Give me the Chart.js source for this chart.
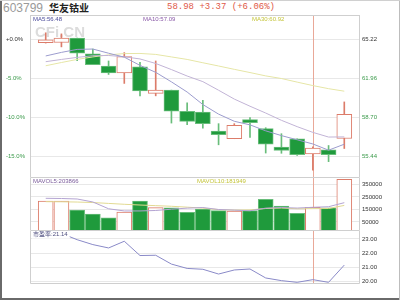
<!DOCTYPE html>
<html lang="zh-CN">
<head>
<meta charset="utf-8">
<title>603799 华友钴业</title>
<script src="https://cdn.jsdelivr.net/npm/chart.js@4.4.1/dist/chart.umd.min.js"></script>
<style>
  html, body { margin: 0; padding: 0; background: #fff; }
  #wrap { position: relative; width: 400px; height: 300px; overflow: hidden; background: #fff; font-family: "Liberation Sans", sans-serif; }
  #wrap canvas { position: absolute; left: 0; }
  .hd { position: absolute; white-space: nowrap; line-height: 1; }
  #code { left: 3px; top: 2px; font-size: 12px; color: #9a9a9a; }
  #name { left: 49px; top: 3px; font-size: 10px; font-weight: bold; color: #222; font-family: "Noto Sans CJK SC", sans-serif; }
  #quote { left: 167px; top: 3px; font-size: 9px; color: #e05a48; font-family: "Liberation Mono", monospace; }
  .edge { position: absolute; z-index: 5; }
</style>
</head>
<body>
<div id="wrap">
  <div class="hd" id="code">603799</div>
  <div class="hd" id="name">华友钴业</div>
  <div class="hd" id="quote"></div>
  <canvas id="priceChart" width="400" height="163" style="top:15px"></canvas>
  <canvas id="volChart" width="400" height="53" style="top:178px"></canvas>
  <canvas id="peChart" width="400" height="69" style="top:231px"></canvas>
  <div class="edge" style="left:0;top:0;width:2px;height:300px;background:#6a6a6a"></div>
  <div class="edge" style="left:0;top:298px;width:400px;height:2px;background:#6a6a6a"></div>
  <div class="edge" style="left:399px;top:0;width:1px;height:300px;background:#bdbdbd"></div>
  <div class="edge" style="left:0;top:0;width:400px;height:1px;background:#d0d0d0"></div>
</div>
<script>
// торговые дни
const dates = ['2022-12-08', '2022-12-09', '2022-12-12', '2022-12-13', '2022-12-14',
  '2022-12-15', '2022-12-16', '2022-12-19', '2022-12-20', '2022-12-21',
  '2022-12-22', '2022-12-23', '2022-12-26', '2022-12-27', '2022-12-28',
  '2022-12-29', '2022-12-30', '2023-01-03', '2023-01-04', '2023-01-05'];

const opens  = [64.99, 65.00, 65.36, 64.04, 63.03, 62.46, 62.97, 60.73, 61.01, 59.24,
                59.18, 57.58, 56.94, 58.54, 57.78, 56.23, 56.94, 55.66, 56.01, 56.96];
const closes = [65.22, 65.36, 64.10, 63.14, 62.46, 63.81, 60.95, 61.01, 59.24, 58.39,
                58.20, 57.27, 58.06, 58.28, 56.48, 55.95, 55.61, 56.16, 55.61, 58.98];
const highs  = [65.81, 65.72, 65.36, 64.44, 63.45, 64.15, 63.34, 63.45, 61.01, 59.94,
                60.16, 58.20, 58.20, 58.71, 57.86, 57.36, 56.94, 56.25, 56.37, 60.02];
const lows   = [64.95, 64.63, 63.48, 63.14, 62.32, 61.57, 60.53, 60.53, 58.25, 58.12,
                57.83, 56.43, 56.94, 57.05, 55.74, 55.72, 55.55, 54.31, 55.02, 56.12];

const ma5  = [63.87, 64.17, 64.42, 64.45, 64.10, 63.77, 63.08, 62.50, 61.70, 60.85,
              59.80, 59.00, 58.40, 58.10, 57.60, 57.20, 56.85, 56.50, 55.98, 56.48];
const ma10 = [63.39, 63.58, 63.75, 63.89, 63.91, 63.80, 63.62, 63.24, 62.73, 62.19,
              61.72, 61.00, 60.26, 59.66, 59.09, 58.48, 57.95, 57.47, 57.08, 57.09];
const ma30 = [63.05, 63.32, 63.58, 63.79, 63.96, 64.07, 64.08, 64.00, 63.79, 63.58,
              63.30, 63.03, 62.75, 62.48, 62.20, 61.98, 61.68, 61.39, 61.13, 60.92];

const volumes = [217500, 217000, 145000, 113000, 83000, 129000, 217500, 164000, 163500, 126500,
                 153000, 139500, 137000, 139500, 231000, 177500, 118500, 167000, 163500, 392000];
const mavol5  = [239000, 237500, 233500, 209500, 155100, 137400, 137500, 141300, 151400, 160100,
                 164900, 149300, 143900, 139100, 160000, 164900, 160700, 166700, 171500, 203866];
const mavol10 = [212000, 211000, 209000, 205000, 198000, 191000, 185000, 180000, 175000, 168000,
                 160000, 148000, 144000, 146000, 157000, 161000, 155000, 156000, 157000, 181949];

const peRatio = [23.35, 23.40, 22.95, 22.60, 22.36, 22.84, 21.82, 21.84, 21.21, 20.90,
                 20.84, 20.50, 20.79, 20.86, 20.22, 20.03, 19.91, 20.10, 19.91, 21.14];

// подписи осей
const priceTicks = [65.22, 61.96, 58.70, 55.44];
const pctTicks = [0, -5, -10, -15];
const volTicks = [350000, 250000, 150000, 50000];
const peTicks = [23, 22, 21, 20];
const xTickDates = ['2023-01-03'];
const xTickMonths = ['1月'];
const xTickYears = ['2023年'];

// диапазоны шкал
const BASE_PRICE = priceTicks[0];
const PRICE_MIN = 53.65, PRICE_MAX = 67.3;
const VOL_MIN = -23500, VOL_MAX = 402000;
const PE_MIN = 19.79, PE_MAX = 23.57;

const upColor = '#dc7c6a';
const downFill = '#1f9a3c';
const downEdge = '#68bd7a';
const greenText = '#3a9a4a';
const darkText = '#333';
const gridColor = '#e8e8e8';
const frameColor = '#cfcfcf';
const janLineColor = '#e9a898';
const axisFont = { family: 'Liberation Sans', size: 6 };
const labelFont = '6px "Liberation Sans"';

const xs = dates.map((d, i) => i + 1);
const isUp = closes.map((c, i) => c >= opens[i]);
const janIdx = dates.indexOf(xTickDates[0]) + 1;
const last = dates.length - 1;
const pts = arr => arr.map((v, i) => ({ x: xs[i], y: v }));
const pctOf = p => (p / BASE_PRICE - 1) * 100;

const chg = closes[last] - closes[last - 1];
document.getElementById('quote').textContent =
  `${closes[last].toFixed(2)} +${chg.toFixed(2)} (+${(chg / closes[last - 1] * 100).toFixed(2)}%)`;

function decorPlugin(cfg) {
  return {
    id: 'decor',
    beforeDatasetsDraw(chart) {
      const { ctx, chartArea: a, scales: { x } } = chart;
      ctx.save();
      if (cfg.watermark) {
        ctx.font = 'bold 15px "Liberation Sans"';
        ctx.fillStyle = '#dcdcdc';
        ctx.textBaseline = 'alphabetic';
        ctx.fillText(cfg.watermark, a.left + 5, a.top + 22);
      }
      const jx = Math.round(x.getPixelForValue(janIdx)) + 0.5;
      ctx.strokeStyle = janLineColor;
      ctx.lineWidth = 1;
      ctx.beginPath();
      ctx.moveTo(jx, a.top);
      ctx.lineTo(jx, a.bottom);
      ctx.stroke();
      ctx.restore();
    },
    afterDatasetsDraw(chart) {
      const { ctx, chartArea: a } = chart;
      ctx.save();
      const L = Math.round(a.left) + 0.5, R = Math.round(a.right) - 0.5;
      const T = Math.round(a.top) + 0.5, B = Math.round(a.bottom) - 0.5;
      ctx.strokeStyle = frameColor;
      ctx.lineWidth = 1;
      ctx.beginPath();
      if (cfg.top) { ctx.moveTo(L, T); ctx.lineTo(R, T); }
      ctx.moveTo(L, a.top); ctx.lineTo(L, B);
      ctx.moveTo(R, a.top); ctx.lineTo(R, B);
      ctx.moveTo(L, B); ctx.lineTo(R, B);
      ctx.stroke();
      (cfg.labels || []).forEach(l => {
        ctx.font = labelFont;
        ctx.textBaseline = 'middle';
        if (l.bg) {
          const w = ctx.measureText(l.text).width;
          ctx.fillStyle = l.bg;
          ctx.fillRect(l.x - 1, l.y - 4, w + 3, 8);
        }
        ctx.fillStyle = l.color;
        ctx.fillText(l.text, l.x, l.y);
      });
      ctx.restore();
    }
  };
}

function baseOptions(padLeft) {
  return {
    responsive: false,
    animation: false,
    events: [],
    layout: { padding: { left: padLeft, right: 0, top: 0, bottom: 0 } },
    plugins: { legend: { display: false }, tooltip: { enabled: false } }
  };
}

// у bar-графика ось x по умолчанию с offset — выключаем
const xHidden = { type: 'linear', min: 0, max: dates.length + 1, offset: false,
  grid: { offset: false }, display: false };

function rightAxis(min, max, ticks, fmt, color) {
  return {
    position: 'right', min, max,
    afterBuildTicks: s => { s.ticks = ticks.map(v => ({ value: v })); },
    afterFit: s => { s.width = 40; s.paddingTop = 0; s.paddingBottom = 0; },
    ticks: { padding: 2, font: axisFont, color, callback: fmt },
    grid: { color: gridColor, drawTicks: false },
    border: { display: false }
  };
}

function lineSet(arr, color) {
  return { type: 'line', data: pts(arr), borderColor: color, borderWidth: 1,
    pointRadius: 0, tension: 0, order: 1 };
}

// свечи
const priceOpts = baseOptions(6);
priceOpts.scales = {
  x: xHidden,
  y: rightAxis(PRICE_MIN, PRICE_MAX, priceTicks, v => v.toFixed(2),
    c => c.index === 0 ? darkText : greenText),
  pct: {
    position: 'left', min: pctOf(PRICE_MIN), max: pctOf(PRICE_MAX),
    afterBuildTicks: s => { s.ticks = pctTicks.map(v => ({ value: v })); },
    afterFit: s => { s.width = 24; s.paddingTop = 0; s.paddingBottom = 0; },
    ticks: { crossAlign: 'far', font: axisFont,
      color: c => c.index === 0 ? darkText : greenText,
      callback: v => (v >= 0 ? '+' : '') + v.toFixed(1) + '%' },
    grid: { display: false },
    border: { display: false }
  }
};

new Chart('priceChart', {
  type: 'bar',
  data: {
    datasets: [
      lineSet(ma5, '#9c9cce'),
      lineSet(ma10, '#c2b4d6'),
      lineSet(ma30, '#e6e6a6'),
      {
        data: xs.map((x, i) => ({ x, y: [lows[i], highs[i]] })),
        backgroundColor: isUp.map(u => u ? upColor : downEdge),
        barThickness: 1, grouped: false, order: 3
      },
      {
        data: xs.map((x, i) => ({ x, y: [opens[i], closes[i]] })),
        backgroundColor: isUp.map(u => u ? '#fff' : downFill),
        borderColor: isUp.map(u => u ? upColor : downEdge),
        borderWidth: 1, borderSkipped: false,
        barThickness: 15, grouped: false, order: 2
      }
    ]
  },
  options: priceOpts,
  plugins: [decorPlugin({
    top: true, watermark: 'CFi.CN',
    labels: [
      { text: 'MA5:' + ma5[last].toFixed(2), x: 33, y: 4, color: '#4a4a9a' },
      { text: 'MA10:' + ma10[last].toFixed(2), x: 143, y: 4, color: '#8a5aa8' },
      { text: 'MA30:' + ma30[last].toFixed(2), x: 252, y: 4, color: '#c4c43a' }
    ]
  })]
});

// объём
const volOpts = baseOptions(30);
volOpts.scales = {
  x: xHidden,
  y: rightAxis(VOL_MIN, VOL_MAX, volTicks, v => String(v), darkText)
};

new Chart('volChart', {
  type: 'bar',
  data: {
    datasets: [
      lineSet(mavol5, '#b4a4d2'),
      lineSet(mavol10, '#e2da92'),
      {
        data: xs.map((x, i) => ({ x, y: volumes[i] })),
        base: VOL_MIN,
        backgroundColor: isUp.map(u => u ? '#fff' : downFill),
        borderColor: isUp.map(u => u ? upColor : downEdge),
        borderWidth: 1, borderSkipped: false,
        barThickness: 15, grouped: false, order: 2
      }
    ]
  },
  options: volOpts,
  plugins: [decorPlugin({
    labels: [
      { text: 'MAVOL5:' + mavol5[last], x: 33, y: 3, color: '#7a5a9a' },
      { text: 'MAVOL10:' + mavol10[last], x: 197, y: 3, color: '#c4c43a' }
    ]
  })]
});

//市盈率
const peOpts = baseOptions(30);
const bottomAxis = (weight, height, padding, color, labels) => ({
  type: 'linear', min: 0, max: dates.length + 1, position: 'bottom', weight, offset: false,
  afterBuildTicks: s => { s.ticks = xTickDates.map(d => ({ value: dates.indexOf(d) + 1 })); },
  afterFit: s => { s.height = height; s.paddingLeft = 0; s.paddingRight = 0; },
  grid: { display: false },
  border: { display: false },
  ticks: { padding, color, maxRotation: 0, autoSkip: false,
    font: { family: 'Noto Sans CJK SC', size: 6.5 },
    callback: (v, i) => labels[i] }
});
peOpts.scales = {
  x: bottomAxis(0, 7, 1, '#222', xTickMonths),
  x2: bottomAxis(1, 9, 0, '#e05a48', xTickYears),
  y: rightAxis(PE_MIN, PE_MAX, peTicks, v => v.toFixed(2), darkText)
};

new Chart('peChart', {
  type: 'line',
  data: {
    datasets: [lineSet(peRatio, '#8a8ac8')]
  },
  options: peOpts,
  plugins: [decorPlugin({
    labels: [
      { text: '市盈率:' + peRatio[last].toFixed(2), x: 33, y: 3.5, color: '#505080', bg: '#fff' }
    ]
  })]
});
</script>
</body>
</html>
